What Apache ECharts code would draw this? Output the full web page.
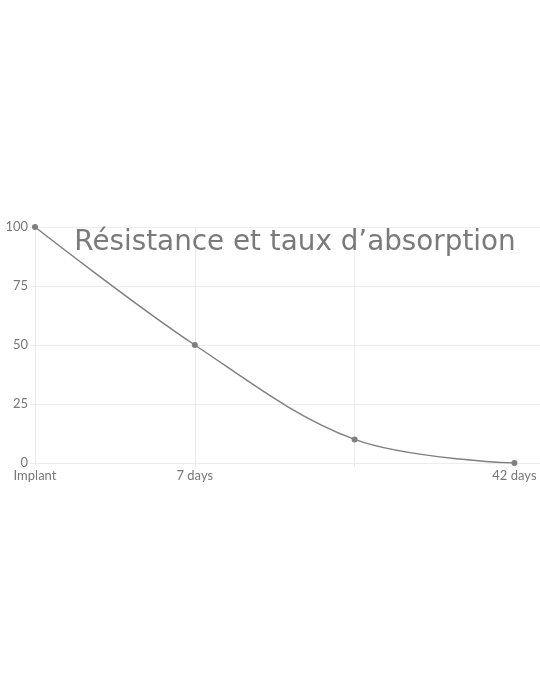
<!DOCTYPE html>
<html>
<head>
<meta charset="utf-8">
<script src="https://cdn.jsdelivr.net/npm/echarts@6/dist/echarts.min.js"></script>
<style>
html,body{margin:0;padding:0;background:#fff;}
#c{width:540px;height:700px;}
</style>
</head>
<body>
<div id="c"></div>
<script>
const categories = ['Implant', '7 days', '', '42 days'];
const values = [100, 50, 10, 0];
const yTicks = [0, 25, 50, 75, 100];
const titleText = 'Résistance et taux d’absorption';

const points = values.map((v, i) => [i, v]);
const gridColor = '#ececec';
const labelColor = '#777';

const chart = echarts.init(document.getElementById('c'));
chart.setOption({
  animation: false,
  title: {
    text: titleText,
    left: 290,
    top: 224,
    textAlign: 'center',
    textStyle: { fontFamily: 'DejaVu Sans', fontWeight: 'normal', fontSize: 27.8, color: '#7a7a7a' }
  },
  grid: { left: 35, right: 0, top: 227, bottom: 237, containLabel: false },
  xAxis: {
    type: 'value',
    min: 0,
    max: 3.16,
    interval: 1,
    axisLine: { show: true, lineStyle: { color: gridColor } },
    axisTick: { show: true, length: 4, lineStyle: { color: gridColor }, customValues: [0, 1, 2, 3] },
    axisLabel: {
      customValues: [0, 1, 2, 3],
      formatter: v => categories[Math.round(v)] || '',
      color: labelColor, fontFamily: 'Lato', fontSize: 13, margin: 6
    },
    splitLine: { show: true, showMaxLine: false, lineStyle: { color: gridColor } }
  },
  yAxis: {
    type: 'value',
    min: yTicks[0],
    max: yTicks[yTicks.length - 1],
    interval: 25,
    axisLine: { show: true, lineStyle: { color: gridColor } },
    axisTick: { show: true, length: 5, lineStyle: { color: gridColor } },
    axisLabel: { color: labelColor, fontFamily: 'Lato', fontSize: 13, margin: 7 },
    splitLine: { show: true, lineStyle: { color: gridColor } }
  },
  series: [{
    type: 'line',
    data: points,
    smooth: 0.35,
    symbol: 'circle',
    symbolSize: 6,
    lineStyle: { color: '#808080', width: 1.5 },
    itemStyle: { color: '#808080' }
  }]
});
</script>
</body>
</html>
